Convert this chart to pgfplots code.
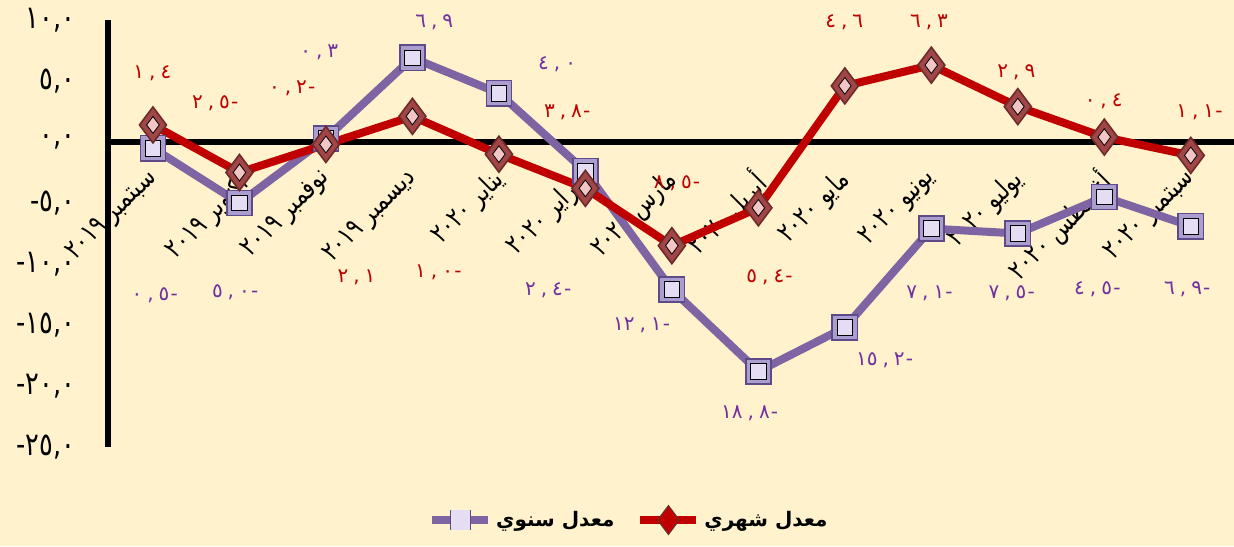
\documentclass[border=0pt]{standalone}
\usepackage{pgfplots}
\pgfplotsset{compat=1.18}
\usepackage{fontspec}
\setmainfont{DejaVu Sans}
\newfontfamily\arabicfont[Script=Arabic]{DejaVu Sans}
\newfontfamily\arabicnarrow[Script=Arabic, FakeStretch=0.8]{DejaVu Sans}
\TeXXeTstate=1
\newcommand{\dl}[3]{#1\kern2.5pt,\kern2.5pt#2\kern0.6pt#3}
\definecolor{bg}{HTML}{FFF2CC}
\definecolor{purpline}{HTML}{7E64A2}
\definecolor{purpdark}{HTML}{5E4A87}
\definecolor{purpfill}{HTML}{AC9DD0}
\definecolor{purplight}{HTML}{E4DDF3}
\definecolor{redline}{HTML}{C00000}
\definecolor{reddark}{HTML}{6E2A2A}
\definecolor{redfill}{HTML}{A04646}
\definecolor{redlight}{HTML}{F2C6C6}
\definecolor{purplabel}{HTML}{7030A0}
\definecolor{redlabel}{HTML}{C00000}
\pgfplotsset{
  purpstyle/.style={purpline, line width=4pt, mark=square*, mark size=6.3pt,
    mark options={fill=purpfill, draw=purpdark, line width=0.8pt}},
  redstyle/.style={redline, line width=4pt, mark=diamond*, mark size=9pt,
    mark options={fill=redfill, draw=reddark, line width=0.8pt}},
}
\pgfplotsset{
  purplegend/.style={legend image code/.code={%
    \draw[purpline, line width=4pt] (0pt,0pt) -- (28pt,0pt);
    \draw[purpline, line width=4pt, mark=square*, mark size=4.8pt,
      mark options={fill=purpfill, draw=purpdark, line width=0.8pt}] plot coordinates {(14pt,0pt)};
    \fill[purplight] (14pt,0pt) +(-2.8pt,-2.8pt) rectangle +(2.8pt,2.8pt);}},
  redlegend/.style={legend image code/.code={%
    \draw[redline, line width=4pt] (0pt,0pt) -- (28pt,0pt);
    \draw[redline, line width=4pt, mark=diamond*, mark size=7pt,
      mark options={fill=redfill, draw=reddark, line width=0.8pt}] plot coordinates {(14pt,0pt)};
    \draw[redline, mark=diamond*, mark size=3.3pt,
      mark options={fill=redlight, draw=none}] plot coordinates {(14pt,0pt)};}},
}
\begin{document}
\begin{tikzpicture}
\fill[bg] (-54pt,-49.5pt) rectangle (563pt,223.5pt);
\begin{axis}[
  at={(0pt,0pt)}, anchor=south west,
  scale only axis, width=563pt, height=213.5pt,
  xmin=-0.52, xmax=12.5, ymin=-25, ymax=10,
  axis y line=left, axis x line=middle,
  axis line style={-, black, line width=2.6pt},
  hide obscured x ticks=false, hide obscured y ticks=false,
  clip=false,
  major tick length=0pt,
  xtick={0,1,...,12},
  xticklabels={
    {\beginR سبتمبر ٢٠١٩\endR},{\beginR أكتوبر ٢٠١٩\endR},{\beginR نوفمبر ٢٠١٩\endR},{\beginR ديسمبر ٢٠١٩\endR},
    {\beginR يناير ٢٠٢٠\endR},{\beginR فبراير ٢٠٢٠\endR},{\beginR مارس ٢٠٢٠\endR},{\beginR أبريل ٢٠٢٠\endR},
    {\beginR مايو ٢٠٢٠\endR},{\beginR يونيو ٢٠٢٠\endR},{\beginR يوليو ٢٠٢٠\endR},{\beginR أغسطس ٢٠٢٠\endR},{\beginR سبتمبر ٢٠٢٠\endR}},
  ytick={-25,-20,-15,-10,-5,0,5,10},
  yticklabels={{-\kern0pt ٢٥,٠},{-\kern0pt ٢٠,٠},{-\kern0pt ١٥,٠},{-\kern0pt ١٠,٠},{-\kern0pt ٥,٠},{٠,٠},{٥,٠},{١٠,٠}},
  yticklabel style={font=\arabicnarrow\fontsize{16}{16}\selectfont, anchor=east, xshift=-13pt},
  xticklabel style={font=\arabicnarrow\fontsize{13.5}{13.5}\selectfont, rotate=45, anchor=north east, yshift=-4.5pt, xshift=-10.4pt, inner sep=1pt},
  legend style={at={(0.284,-0.171)}, anchor=west, legend columns=2, draw=none, fill=none,
    inner sep=0pt,
    font=\arabicfont\bfseries\fontsize{10}{10}\selectfont,
    /tikz/every even column/.append style={column sep=9pt}},
]
\addplot[purpstyle, purplegend]
coordinates {(0,-0.5)(1,-5.0)(2,0.3)(3,6.9)(4,4.0)(5,-2.4)(6,-12.1)(7,-18.8)(8,-15.2)(9,-7.1)(10,-7.5)(11,-4.5)(12,-6.9)};
\addlegendentry{\beginR معدل سنوي\endR}
\addplot[forget plot, only marks, mark=square*, mark size=3.9pt, mark options={fill=purplight, draw=none}]
coordinates {(0,-0.5)(1,-5.0)(2,0.3)(3,6.9)(4,4.0)(5,-2.4)(6,-12.1)(7,-18.8)(8,-15.2)(9,-7.1)(10,-7.5)(11,-4.5)(12,-6.9)};
\addplot[redstyle, redlegend]
coordinates {(0,1.4)(1,-2.5)(2,-0.2)(3,2.1)(4,-1.0)(5,-3.8)(6,-8.5)(7,-5.4)(8,4.6)(9,6.3)(10,2.9)(11,0.4)(12,-1.1)};
\addlegendentry{\beginR معدل شهري\endR}
\addplot[forget plot, only marks, mark=diamond*, mark size=4.2pt, mark options={fill=redlight, draw=none}]
coordinates {(0,1.4)(1,-2.5)(2,-0.2)(3,2.1)(4,-1.0)(5,-3.8)(6,-8.5)(7,-5.4)(8,4.6)(9,6.3)(10,2.9)(11,0.4)(12,-1.1)};
% data labels annual
\begingroup
\tikzset{every node/.style={font=\arabicnarrow\bfseries\fontsize{13}{13}\selectfont, inner sep=0pt}}
\node[purplabel] at (axis cs:0.02,-12.54) {\dl{٠}{٥}{-}};
\node[purplabel] at (axis cs:0.95,-12.3) {\dl{٥}{٠}{-}};
\node[purplabel] at (axis cs:1.93,7.38) {\dl{٠}{٣}{}};
\node[purplabel] at (axis cs:3.26,9.84) {\dl{٦}{٩}{}};
\node[purplabel] at (axis cs:4.68,6.36) {\dl{٤}{٠}{}};
\node[purplabel] at (axis cs:4.57,-12.13) {\dl{٢}{٤}{-}};
\node[purplabel] at (axis cs:5.65,-15.0) {\dl{١٢}{١}{-}};
\node[purplabel] at (axis cs:6.90,-22.2) {\dl{١٨}{٨}{-}};
\node[purplabel] at (axis cs:8.46,-17.9) {\dl{١٥}{٢}{-}};
\node[purplabel] at (axis cs:8.98,-12.4) {\dl{٧}{١}{-}};
\node[purplabel] at (axis cs:9.93,-12.4) {\dl{٧}{٥}{-}};
\node[purplabel] at (axis cs:10.92,-12.1) {\dl{٤}{٥}{-}};
\node[purplabel] at (axis cs:11.96,-12.1) {\dl{٦}{٩}{-}};
% monthly
\node[redlabel] at (axis cs:0,5.66) {\dl{١}{٤}{}};
\node[redlabel] at (axis cs:0.72,3.2) {\dl{٢}{٥}{-}};
\node[redlabel] at (axis cs:1.61,4.4) {\dl{٠}{٢}{-}};
\node[redlabel] at (axis cs:2.36,-11.07) {\dl{٢}{١}{}};
\node[redlabel] at (axis cs:3.30,-10.7) {\dl{١}{٠}{-}};
\node[redlabel] at (axis cs:4.79,2.46) {\dl{٣}{٨}{-}};
\node[redlabel] at (axis cs:6.06,-3.36) {\dl{٨}{٥}{-}};
\node[redlabel] at (axis cs:7.13,-11.07) {\dl{٥}{٤}{-}};
\node[redlabel] at (axis cs:8.0,9.84) {\dl{٤}{٦}{}};
\node[redlabel] at (axis cs:8.98,9.84) {\dl{٦}{٣}{}};
\node[redlabel] at (axis cs:9.99,5.74) {\dl{٢}{٩}{}};
\node[redlabel] at (axis cs:11.0,3.36) {\dl{٠}{٤}{}};
\node[redlabel] at (axis cs:12.1,2.46) {\dl{١}{١}{-}};
\endgroup
\end{axis}
\pgfresetboundingbox
\path[use as bounding box] (-54pt,-49.5pt) rectangle (563pt,223.5pt);
\end{tikzpicture}
\end{document}
